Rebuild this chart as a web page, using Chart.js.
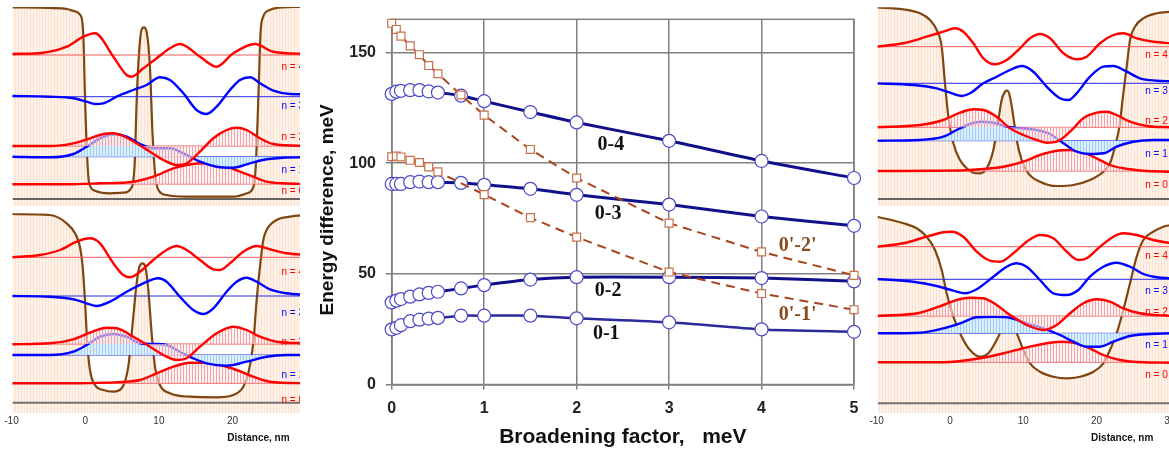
<!DOCTYPE html>
<html>
<head>
<meta charset="utf-8">
<script src="https://cdn.jsdelivr.net/npm/chart.js@4.4.1/dist/chart.umd.min.js"></script>
<style>
  html, body { margin: 0; padding: 0; background: #fff; }
  #wrap { position: relative; width: 1169px; height: 452px; overflow: hidden; }
  .pane { position: absolute; overflow: hidden; }
  canvas { display: block; }
</style>
</head>
<body>
<div id="wrap">
  <div class="pane" style="left:0;top:0;width:300px;height:207px"><canvas id="pTL" width="310" height="207"></canvas></div>
  <div class="pane" style="left:0;top:207px;width:300px;height:245px"><canvas id="pBL" width="310" height="245"></canvas></div>
  <div class="pane" style="left:300px;top:0;width:570px;height:452px"><canvas id="main" width="570" height="452"></canvas></div>
  <div class="pane" style="left:870px;top:0;width:299px;height:207px"><canvas id="pTR" width="303" height="207"></canvas></div>
  <div class="pane" style="left:870px;top:207px;width:299px;height:245px"><canvas id="pBR" width="303" height="245"></canvas></div>
</div>
<script>
// ---- transition energies vs broadening (meV) ----
const broadening  = [0, 0.05, 0.1, 0.2, 0.3, 0.4, 0.5, 0.75, 1, 1.5, 2, 3, 4, 5];
const broadening1 = [0, 0.05, 0.1, 0.2, 0.3, 0.4, 0.5, 1, 1.5, 2, 3, 4, 5];
const e04 = [131.3, 132.3, 132.7, 133, 133, 132.4, 131.9, 130.5, 128, 123.1, 118.4, 110.1, 101, 93.3];
const e03 = [90.6, 90.6, 90.6, 91.4, 91.7, 91.4, 91.4, 91.1, 90.2, 88.4, 85.7, 81.3, 75.9, 71.7];
const e02 = [37.1, 37.9, 38.6, 39.7, 40.7, 41.4, 41.9, 43.4, 44.9, 47.4, 48.5, 48.5, 48.1, 46.6];
const e01 = [24.9, 25.6, 26.8, 28.6, 29.3, 29.8, 30.1, 31.1, 31.1, 31.1, 29.9, 28.1, 24.9, 23.8];
const e22 = [163.2, 160.4, 157.4, 153, 149, 144.1, 140.4, 130.8, 121.7, 106.2, 93.3, 72.9, 59.9, 49.3];
const e11 = [102.9, 103.2, 102.8, 101.3, 100.3, 98.3, 96.1, 85.8, 75.4, 66.6, 50.8, 41.1, 33.8];
const yTicks = [0, 50, 100, 150];
const seriesLabels = [
  { text: '0-4', x: 2.37, y: 108.5, color: '#111' },
  { text: '0-3', x: 2.34, y: 77.0, color: '#111' },
  { text: '0-2', x: 2.34, y: 42.3, color: '#111' },
  { text: '0-1', x: 2.32, y: 22.8, color: '#111' },
  { text: "0'-2'", x: 4.39, y: 62.6, color: '#8a4b1c' },
  { text: "0'-1'", x: 4.39, y: 31.4, color: '#8a4b1c' }
];

// ---- well profiles: [distance nm, energy] ----
const distanceTicks = [-10, 0, 10, 20, 30];

// top left
const tlPot = [[-10,191.7],[-5,191],[-2.6,190],[-1.7,188],[-0.8,184],[-0.4,166],[-0.15,99],[0.15,39],[0.4,16],[1.2,8.3],[3.2,5.7],[5,6.3],[6.2,12],[6.6,39],[6.85,99],[7.2,149],[7.5,169],[7.85,171.7],[8.2,167],[8.65,132],[9.0,65],[9.35,25],[9.8,9],[10.9,4],[13.6,2.3],[20,2.3],[21.8,5.7],[22.7,12.3],[23.0,32],[23.35,99],[23.65,165],[24.0,182],[24.9,189],[26.7,191.7],[30,192.3]];
const tlN0 = [[-10.07,14.7],[-2.65,14.7],[1.87,15.7],[6.39,17.3],[9.1,22.3],[11.82,30.7],[13.63,34],[15.44,35.7],[17.25,35],[19.05,32.3],[20.86,27.3],[22.67,22.3],[24.48,17.3],[26.74,15.7],[30,15]];
const tlN1 = [[-10.07,42.3],[-4.92,41.7],[-1.75,45],[0.06,52.3],[1.87,60.7],[3.68,64.7],[5.49,62.3],[7.3,55],[9.1,50.7],[11.37,50.7],[13.18,45.7],[15.44,37.3],[17.7,32.3],[19.96,31.3],[22.22,35.7],[24.48,39.7],[26.74,41.3],[30,41.7]];
const tlN2 = [[-10.07,53],[-4.92,53],[-1.75,55.7],[0.51,60.7],[2.32,65],[3.68,65.7],[5.03,63],[6.84,55.7],[8.65,47.3],[10.46,39],[12.27,34],[13.63,35.7],[15.44,47.3],[17.25,60.7],[19.05,69],[20.41,71.3],[21.77,69],[23.58,60.7],[25.39,55],[30,53]];
const tlN3 = [[-10.07,103],[-4.92,102.3],[-1.75,100.7],[0.06,97.3],[1.19,95],[2.32,95.7],[4.13,102.3],[6.39,109],[8.2,114],[10.01,121.7],[11.37,119],[13.18,105.7],[14.98,89],[16.34,85],[17.7,92.3],[19.51,109],[20.86,119],[22.22,121.7],[23.58,115.7],[25.39,108.3],[27.65,105],[30,104.7]];
const tlN4 = [[-10.07,145],[-5.82,146.3],[-2.65,152.3],[-0.39,162.3],[1.19,165.7],[3.68,142.3],[5.49,124],[6.17,122.3],[7.75,130.7],[9.56,140.7],[11.37,150.7],[12.72,155],[15.44,142.3],[17.7,132.3],[19.96,145.7],[22.9,155],[25.39,147.3],[30,145]];
const tlLevels = [15, 42.3, 53, 102.3, 144];

// bottom left
const blPot = [[-10.07,188.7],[-4.92,187.7],[-2.65,179.4],[-1.52,169.4],[-0.85,156],[-0.48,136],[-0.17,102.7],[0.15,59.4],[0.51,32.7],[1.19,17.7],[2.32,12.7],[3.68,11],[4.81,14.4],[5.71,36],[6.39,86],[6.84,119.4],[7.3,137.7],[7.66,139.4],[8.02,136],[8.43,112.7],[8.88,69.4],[9.33,36],[10.01,17.7],[11.37,9.4],[14.08,6],[17.7,5.4],[19.96,7.7],[21.32,16],[22.0,29.4],[22.67,59.4],[23.13,102.7],[23.58,136],[24.03,162.7],[24.48,172.7],[25.84,182.7],[27.65,186],[30,187.7]];
const blN0 = [[-10.07,19.4],[-2.65,19.4],[2.77,20.1],[7.3,22.7],[9.56,29.4],[11.82,36],[14.08,40],[15.89,40],[18.15,37.7],[20.41,32.7],[22.67,26],[24.93,21],[30,19.4]];
const blN1 = [[-10.07,47.7],[-4.92,47.7],[-1.75,51],[0.06,57.7],[1.87,66],[3.68,68.7],[5.49,66],[7.3,59.4],[9.1,58.7],[10.91,57.7],[12.72,51],[14.53,44.4],[16.34,39.4],[19.05,37],[21.77,41],[24.48,46],[27.2,47.7],[30,47.7]];
const blN2 = [[-10.07,58.4],[-4.92,59.4],[-1.75,63.4],[0.51,70],[2.77,75],[4.13,74.4],[6.39,66],[8.65,56],[10.46,47.7],[12.27,42.7],[13.63,44.4],[15.44,56],[17.7,69.4],[19.96,76],[21.77,72.7],[23.58,66],[25.84,61],[30,59.4]];
const blN3 = [[-10.07,106.7],[-4.92,106],[-1.75,103.4],[0.06,99.4],[1.42,96.7],[3.23,101],[5.49,111],[7.75,119.4],[9.78,124.4],[10.91,121],[12.72,106],[14.53,92.7],[15.89,88.7],[17.25,94.4],[19.05,111],[20.41,121],[21.77,125],[23.13,121],[24.93,113.4],[27.2,109.4],[30,107.7]];
const blN4 = [[-10.07,145.4],[-6.27,147.7],[-3.56,152.7],[-1.3,161],[0.51,164.4],[1.87,159.4],[3.68,139.4],[5.03,127.7],[5.94,125.4],[7.3,131],[9.1,142.7],[10.91,152.7],[12.27,156.7],[13.63,152.7],[15.44,142.7],[17.25,133.4],[18.15,132.7],[19.51,139.4],[21.32,151],[23.13,156.7],[24.93,153.4],[27.2,149.4],[30,147.7]];
const blLevels = [19.4, 47.7, 58.7, 106.7, 145.4];

// top right
const trPot = [[-10.23,191.7],[-6.5,189.7],[-4.23,185.7],[-2.86,179],[-1.95,169],[-1.27,152.3],[-0.82,115.7],[-0.36,82.3],[0.32,55.7],[1.23,39],[2.14,30.7],[3.05,26.3],[3.96,25.7],[4.87,30.7],[5.78,49],[6.46,79],[6.91,99],[7.37,107.3],[7.69,108.3],[8.05,102.3],[8.5,82.3],[8.96,59],[9.64,39],[10.55,25.7],[12.14,17.3],[14.42,13],[16.69,14],[18.96,19],[20.78,27.3],[21.69,35.7],[22.37,52.3],[22.97,72.3],[23.51,105.7],[23.97,132.3],[24.42,159],[25.1,172.3],[26.24,180.7],[28.06,185.7],[30,187.3]];
const trN0 = [[-10.23,28],[-1.95,28.3],[2.59,29],[7.14,32.3],[9.87,37.3],[12.14,44],[14.42,48.3],[16.24,49],[18.05,46.3],[19.87,40.7],[21.69,34],[23.51,30.7],[26.24,28.3],[30,27.3]];
const trN1 = [[-10.23,58.3],[-4.23,59],[-1.05,62.3],[0.77,69],[2.59,75],[3.96,77.3],[5.78,76.3],[7.6,72.3],[9.41,70.7],[11.69,69],[13.51,65],[15.33,55.7],[17.14,47.3],[18.96,45],[20.78,45.7],[22.6,52.3],[24.87,57.3],[27.6,59],[30,59]];
const trN2 = [[-10.23,71.7],[-4.23,74],[-1.05,79],[1.23,86.3],[3.05,89.7],[4.41,89],[6.23,82.3],[8.05,70.7],[9.87,64],[11.69,59],[13.05,56.3],[14.42,57.3],[16.24,67.3],[18.05,80.7],[19.87,86.3],[21.24,87.3],[22.6,84],[24.42,77.3],[26.69,73],[30,71.7]];
const trN3 = [[-10.23,115.7],[-5.14,114],[-1.95,110.7],[-0.14,106.3],[1.46,103],[2.59,105.7],[4.41,115.7],[6.23,122.3],[8.05,129],[9.64,133],[11.23,127.3],[13.05,112.3],[14.87,100.7],[16.01,99],[17.14,105.7],[18.96,122.3],[20.78,132.3],[22.15,133],[23.97,127.3],[25.79,120.7],[28.06,118.3],[30,117.7]];
const trN4 = [[-10.23,152.3],[-6.5,155.7],[-3.32,162.3],[-1.05,167.3],[0.55,170.7],[1.68,167.3],[3.05,155.7],[4.41,140.7],[6.0,134.7],[7.6,139],[9.41,150.7],[10.78,160.7],[12.14,165],[13.51,160.7],[15.33,145.7],[17.14,139.7],[18.51,142.3],[20.33,155.7],[22.15,164],[23.51,165.7],[25.33,160.7],[27.6,157.3],[30,155.7]];
const trLevels = [28, 58.3, 71.7, 115.7, 152.3];

// bottom right
const brPot = [[-10.05,186.6],[-6.5,180],[-4.68,175],[-3.32,166.6],[-2.18,153.3],[-1.27,133.3],[-0.59,110],[0.32,86.6],[1.46,66.6],[2.59,53.3],[3.96,46.6],[5.09,50],[6.23,63.3],[7.14,76.6],[7.69,80.6],[8.28,78.3],[8.96,70],[9.87,53.3],[10.78,40],[12.14,31.6],[13.96,26.6],[15.78,25],[17.6,26.6],[19.42,31.6],[20.78,40],[21.69,53.3],[22.6,70],[23.51,93.3],[24.42,120],[25.33,146.6],[26.24,163.3],[27.6,171.6],[28.97,176.6],[30,178.3]];
const brN0 = [[-10.05,41],[-1.05,41],[3.96,45],[8.05,51.6],[10.78,56.6],[13.51,60.6],[15.33,61.6],[17.14,60],[18.96,55],[20.78,48.3],[23.05,43.3],[26.24,41],[30,40.6]];
const brN1 = [[-10.05,70],[-4.23,70.6],[-1.05,75],[1.23,80],[3.5,86],[5.78,86.6],[8.05,85.6],[10.32,80],[12.6,75],[14.87,68.3],[16.69,61.6],[18.51,56.6],[20.33,56.6],[22.15,61.6],[24.42,67.3],[27.15,69.3],[30,70]];
const brN2 = [[-10.05,87.3],[-4.23,90.6],[-1.05,98.3],[0.77,103.3],[2.59,105.6],[4.41,105],[6.23,98.3],[8.05,88.3],[10.32,78.3],[12.6,73.3],[14.42,78.3],[16.24,90],[18.05,100],[19.87,104],[21.69,101.6],[23.51,95],[25.79,90],[30,87.3]];
const brN3 = [[-10.05,124.3],[-5.14,121.6],[-1.95,117.3],[0.32,112.6],[1.91,110],[3.5,114],[5.78,126.6],[7.6,136.6],[8.96,140],[10.32,136.6],[12.14,123.3],[13.96,110],[15.78,108.3],[17.37,113.3],[18.96,126.6],[20.78,136.6],[22.6,140.6],[24.42,136.6],[26.24,129.3],[28.06,126],[30,125]];
const brN4 = [[-10.05,156.6],[-6.5,160],[-3.32,166.6],[-1.05,171],[0.09,171.6],[1.68,166.6],[3.5,151.6],[5.32,142.6],[6.69,141.6],[8.5,150],[10.32,161.6],[12.14,168.3],[13.96,165],[15.78,151.6],[17.37,143.3],[18.51,145],[20.33,156.6],[22.15,166.6],[23.51,170],[25.33,168.3],[27.6,163.3],[30,160]];
const brLevels = [41, 70, 87.3, 124, 156.6];

Chart.defaults.font.family = "'Liberation Sans', Arial, sans-serif";
Chart.defaults.animation = false;
Chart.defaults.plugins.legend.display = false;
Chart.defaults.plugins.tooltip.enabled = false;

const byId = (id) => document.getElementById(id);
const toXY = (xs, ys) => xs.map((x, i) => ({ x, y: ys[i] }));
const pairs = (arr) => arr.map(([x, y]) => ({ x, y }));

// vertical stripe fills
function stripes(line, gap) {
  const c = document.createElement('canvas');
  c.width = 3; c.height = 1;
  const g = c.getContext('2d');
  g.fillStyle = gap; g.fillRect(0, 0, 3, 1);
  g.fillStyle = line; g.fillRect(0, 0, 1, 1);
  return g.createPattern(c, 'repeat');
}
const barrierFill = stripes('#fbe2d2', '#fef1e7');
const pinkFill = stripes('#f4a2a6', 'rgba(255,235,235,0.55)');
const blueFill = stripes('#a2cff7', '#dbeefd');

// one well panel
function wellPanel(id, p) {
  const waveColor = ['#ff0000', '#0000ff', '#ff0000', '#0000ff', '#ff0000'];
  const ds = [];
  ds.push({ data: pairs(p.pot), borderColor: '#80460f', borderWidth: 2.2, backgroundColor: barrierFill, fill: 'start', order: 30 });
  ds.push({ data: [{ x: -10, y: 0 }, { x: 30, y: 0 }], borderColor: p.zeroColor, borderWidth: p.zeroWidth, fill: false, order: 29 });
  p.levels.forEach((lv, n) => ds.push({
    data: [{ x: -10, y: lv }, { x: 30, y: lv }],
    borderColor: n % 2 ? '#2a2ae8' : '#f25a5a', borderWidth: 1, fill: false, order: 28
  }));
  p.waves.forEach((w, n) => ds.push({
    data: pairs(w), borderColor: waveColor[n], borderWidth: 2.4,
    fill: n < 3 ? { value: p.levels[n] } : false,
    backgroundColor: n === 1 ? blueFill : pinkFill,
    order: 10 - n
  }));

  const annotate = {
    id: 'annotate_' + id,
    afterDatasetsDraw(chart) {
      const { ctx, chartArea } = chart;
      const x = chart.scales.x, y = chart.scales.y;
      ctx.save();
      ctx.font = "10px 'Liberation Sans', Arial";
      ctx.textBaseline = 'middle';
      ctx.textAlign = 'left';
      p.levels.forEach((lv, n) => {
        ctx.fillStyle = n % 2 ? '#0000ff' : '#ff0000';
        ctx.fillText('n = ' + n, x.getPixelForValue(26.5), y.getPixelForValue(lv) + p.labelDy[n]);
      });
      if (p.ticks) {
        ctx.fillStyle = '#333';
        ctx.textAlign = 'center';
        distanceTicks.forEach(v => ctx.fillText(String(v), x.getPixelForValue(v) - 1, chartArea.bottom + 8));
        ctx.font = "bold 10px 'Liberation Sans', Arial";
        ctx.fillStyle = '#111';
        ctx.textAlign = 'right';
        ctx.fillText('Distance, nm', x.getPixelForValue(27.6), chartArea.bottom + 25);
      }
      ctx.restore();
    }
  };

  new Chart(byId(id), {
    type: 'line',
    data: { datasets: ds },
    options: {
      responsive: false,
      layout: { padding: p.pad },
      elements: { point: { radius: 0 }, line: { cubicInterpolationMode: 'monotone' } },
      scales: {
        x: { type: 'linear', min: -10, max: 30, display: false },
        y: { type: 'linear', min: p.yMin, max: p.yMax, display: false }
      }
    },
    plugins: [annotate]
  });
}

wellPanel('pTL', { pot: tlPot, waves: [tlN0, tlN1, tlN2, tlN3, tlN4], levels: tlLevels, yMin: -7, yMax: 192,
  pad: { left: 12.5, right: 2.7, top: 7, bottom: 1 }, labelDy: [7, 14, -9, 10, 12], zeroColor: '#333', zeroWidth: 1.5, ticks: false });
wellPanel('pBL', { pot: blPot, waves: [blN0, blN1, blN2, blN3, blN4], levels: blLevels, yMin: -10.6, yMax: 189.4,
  pad: { left: 12.5, right: 2.7, top: 6.3, bottom: 38.7 }, labelDy: [17, 20, -2, 17, 15], zeroColor: '#707070', zeroWidth: 2, ticks: true });
wellPanel('pTR', { pot: trPot, waves: [trN0, trN1, trN2, trN3, trN4], levels: trLevels, yMin: -7, yMax: 191.7,
  pad: { left: 7.7, right: 2.1, top: 7.3, bottom: 1 }, labelDy: [14, 14, -6, 8, 9], zeroColor: '#333', zeroWidth: 1.5, ticks: false });
wellPanel('pBR', { pot: brPot, waves: [brN0, brN1, brN2, brN3, brN4], levels: brLevels, yMin: -10, yMax: 190,
  pad: { left: 7.7, right: 2.1, top: 6.3, bottom: 38.7 }, labelDy: [13, 12, -4, 12, 10], zeroColor: '#707070', zeroWidth: 2, ticks: true });

// ---- main chart ----
const frameAndLabels = {
  id: 'frameAndLabels',
  beforeDatasetsDraw(chart) {
    const { ctx, chartArea: a } = chart;
    ctx.save();
    ctx.strokeStyle = '#808080';
    ctx.lineWidth = 1.5;
    ctx.strokeRect(a.left, a.top, a.right - a.left, a.bottom - a.top);
    ctx.restore();
  },
  afterDatasetsDraw(chart) {
    const { ctx } = chart;
    const x = chart.scales.x, y = chart.scales.y;
    ctx.save();
    ctx.font = "bold 20px 'Liberation Serif', 'Times New Roman', serif";
    ctx.textAlign = 'center';
    ctx.textBaseline = 'middle';
    seriesLabels.forEach(l => {
      ctx.fillStyle = l.color;
      ctx.fillText(l.text, x.getPixelForValue(l.x), y.getPixelForValue(l.y));
    });
    ctx.restore();
  }
};

const circleSeries = (ys, width, color) => ({
  data: toXY(broadening, ys), borderColor: color, borderWidth: width, tension: 0.2, clip: false,
  pointStyle: 'circle', pointRadius: 6.5, pointBorderColor: '#4b4bc8', pointBorderWidth: 1.2,
  pointBackgroundColor: '#fff', order: 2
});
const squareSeries = (xs, ys) => ({
  data: toXY(xs, ys), borderColor: '#a8441c', borderWidth: 2, borderDash: [9, 6], tension: 0, clip: false,
  pointStyle: 'rect', pointRadius: 5.6, pointBorderColor: '#c8714a', pointBorderWidth: 1.2,
  pointBackgroundColor: '#fff', order: 1
});

const gridStyle = { color: '#808080', lineWidth: 1.5, tickLength: 5 };
const tickFont = { size: 16, weight: 'bold' };

new Chart(byId('main'), {
  type: 'line',
  data: {
    datasets: [
      circleSeries(e04, 3, '#10108a'),
      circleSeries(e03, 3, '#10108a'),
      circleSeries(e02, 3, '#10108a'),
      circleSeries(e01, 2.5, '#2a2a9c'),
      squareSeries(broadening, e22),
      squareSeries(broadening1, e11)
    ]
  },
  options: {
    responsive: false,
    layout: { padding: { left: 0, top: 13.3, right: 16, bottom: 0 } },
    scales: {
      x: {
        type: 'linear', min: 0, max: 5,
        ticks: { stepSize: 1, font: tickFont, color: '#222', padding: 9, maxRotation: 0 },
        grid: gridStyle,
        border: { color: '#808080', width: 1.5 },
        title: { display: true, text: 'Broadening factor,   meV', color: '#111',
          font: { size: 21, weight: 'bold' }, padding: { top: 0, bottom: 2.4 } },
        afterFit: (s) => { s.height = 67.5; }
      },
      y: {
        type: 'linear', min: 0, max: 165,
        afterBuildTicks: (s) => { s.ticks = yTicks.map(v => ({ value: v })); },
        ticks: { font: tickFont, color: '#222', padding: 9.7 },
        grid: { color: '#808080', lineWidth: 1.5, tickLength: 6 },
        border: { color: '#808080', width: 1.5 },
        title: { display: true, text: 'Energy difference, meV   ', color: '#111',
          font: { size: 19, weight: 'bold' }, padding: { top: 16.6, bottom: 0 } },
        afterFit: (s) => { s.width = 91.7; }
      }
    }
  },
  plugins: [frameAndLabels]
});
</script>
</body>
</html>
